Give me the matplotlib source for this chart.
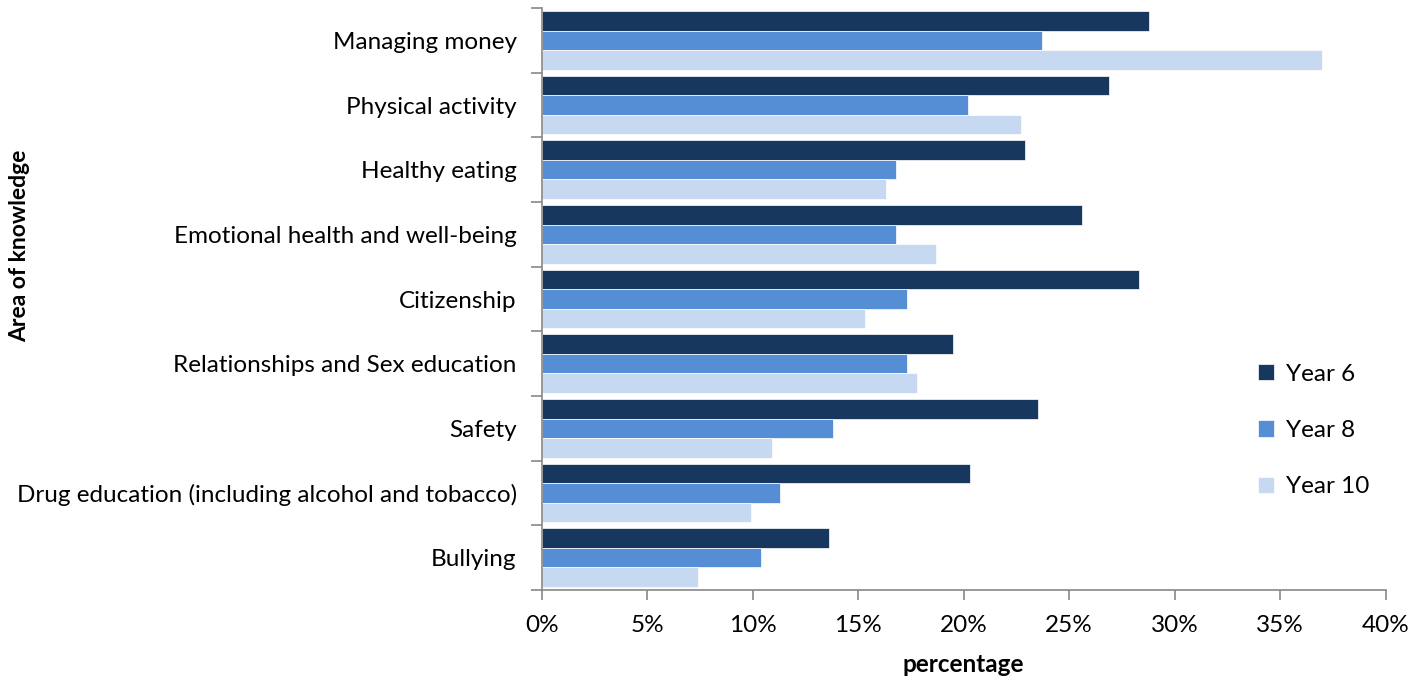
import numpy as np
import matplotlib
matplotlib.use("Agg")
import matplotlib.pyplot as plt
from matplotlib.ticker import FixedLocator, PercentFormatter

plt.rcParams['font.family'] = ['Lato', 'DejaVu Sans']

# areas of knowledge, top to bottom as in the chart
areas = [
    "Managing money", "Physical activity", "Healthy eating",
    "Emotional health and well-being", "Citizenship",
    "Relationships and Sex education", "Safety",
    "Drug education (including alcohol and tobacco)", "Bullying",
]
year6 = [28.8, 26.9, 22.9, 25.6, 28.3, 19.5, 23.5, 20.3, 13.6]
year8 = [23.7, 20.2, 16.8, 16.8, 17.3, 17.3, 13.8, 11.3, 10.4]
year10 = [37.0, 22.7, 16.3, 18.7, 15.3, 17.8, 10.9, 9.9, 7.4]

series = [("Year 6", year6, "#17375E"),
          ("Year 8", year8, "#558ED5"),
          ("Year 10", year10, "#C6D9F1")]

fs = 17.5
fig = plt.figure(figsize=(14.27, 6.81), dpi=100)
ax = fig.add_axes([541.7 / 1427, 1 - 590 / 681, 844 / 1427, 582 / 681])

n = len(areas)
pos = np.arange(n)
h = 0.304
for i, (name, vals, col) in enumerate(series):
    ax.barh(pos + (i - 1) * h, vals, height=h, color=col, label=name,
            edgecolor="white", linewidth=0.5)

ax.set_ylim(n - 0.5, -0.5)
ax.set_xlim(0, 40)
ax.set_yticks(pos)
ax.set_yticklabels(areas, fontsize=fs)
ax.yaxis.set_minor_locator(FixedLocator(np.arange(-0.5, n, 1)))
ax.tick_params(axis="y", which="major", length=0, pad=18)
ax.tick_params(axis="y", which="minor", length=8, color="#878787", width=1.2)

ax.set_xticks(np.arange(0, 41, 5))
ax.xaxis.set_major_formatter(PercentFormatter(decimals=0))
ax.tick_params(axis="x", length=7, color="#878787", width=1.2, labelsize=fs, pad=11)

for s in ["top", "right"]:
    ax.spines[s].set_visible(False)
for s in ["left", "bottom"]:
    ax.spines[s].set_color("#878787")
    ax.spines[s].set_linewidth(1.2)

ax.set_xlabel("percentage", fontsize=fs, fontweight="bold", labelpad=12)
fig.text(20 / 1427, 1 - 246 / 681, "Area of knowledge", rotation=90,
         fontsize=16.5, fontweight="bold", ha="center", va="center")

ax.legend(loc="upper left", bbox_to_anchor=(1236 / 1427, 1 - 342 / 681),
          bbox_transform=fig.transFigure, frameon=False, fontsize=fs,
          handlelength=0.65, handleheight=0.65, labelspacing=1.45, handletextpad=0.5)

fig.savefig("out.png", dpi=100)
